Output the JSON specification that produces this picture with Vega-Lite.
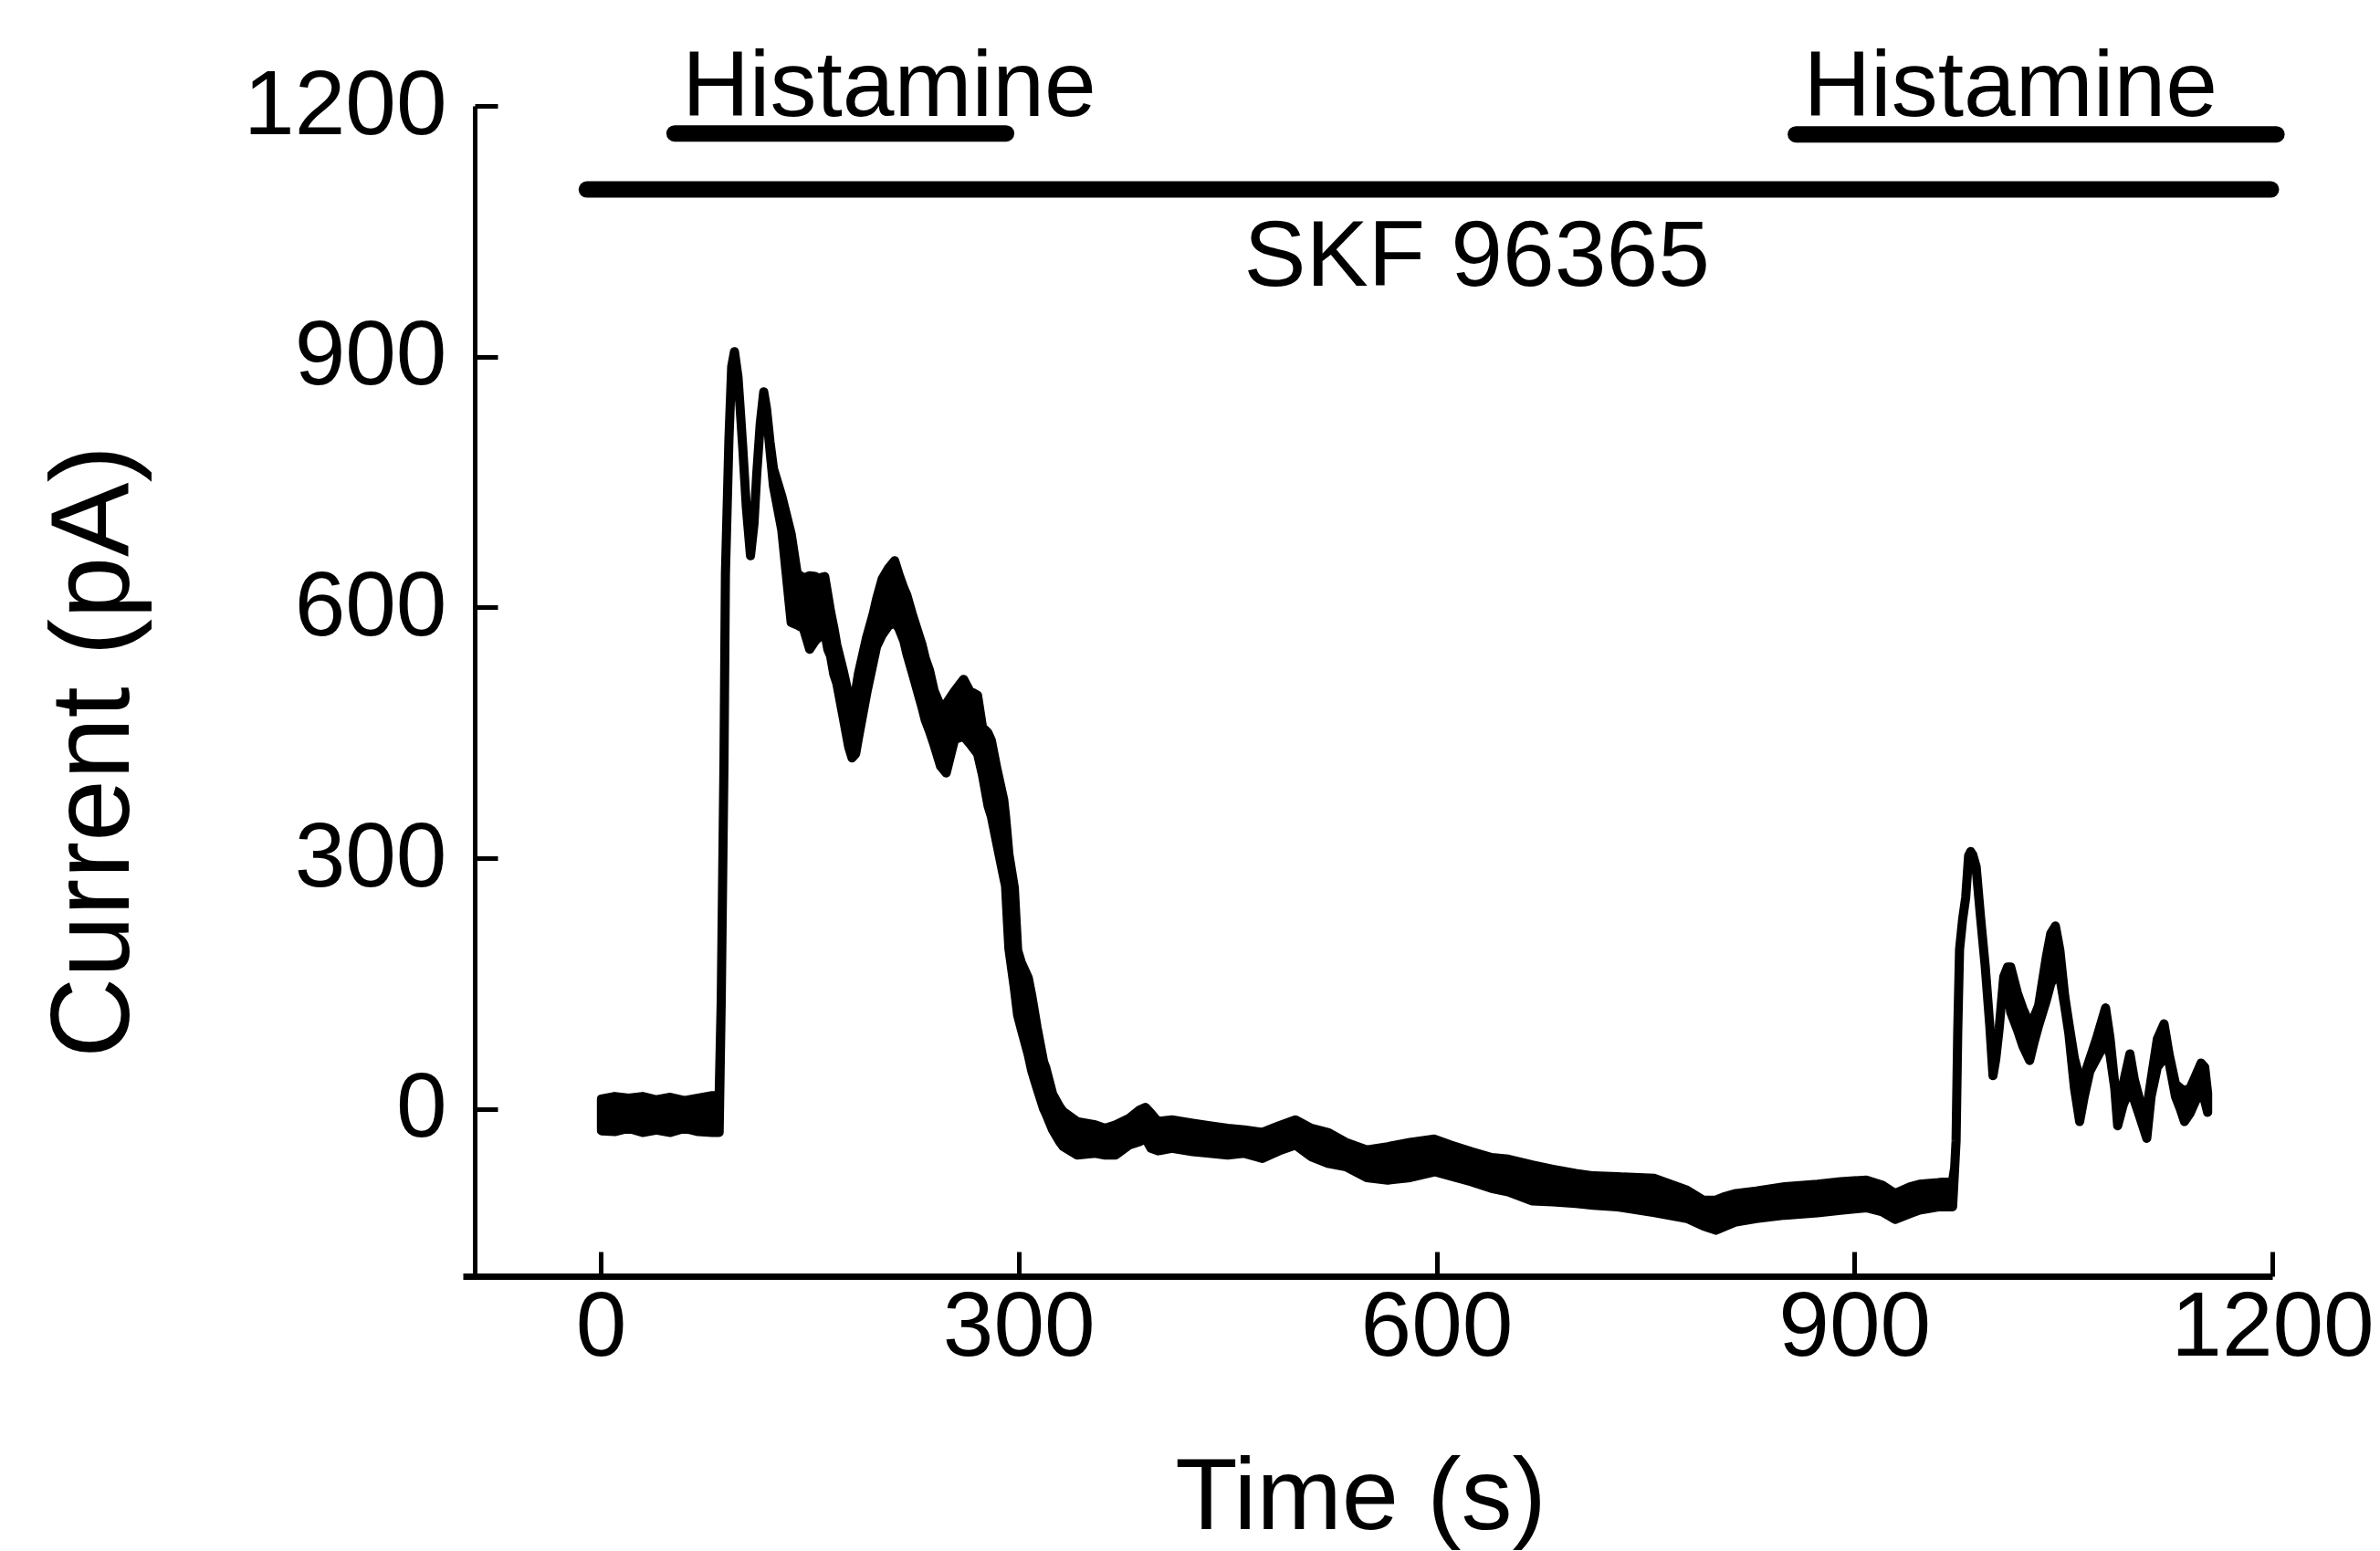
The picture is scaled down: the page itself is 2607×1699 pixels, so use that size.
{
  "$schema": "https://vega.github.io/schema/vega-lite/v6.json",
  "width": 1982,
  "height": 1282,
  "autosize": {"type": "none"},
  "padding": {"left": 507, "top": 116, "right": 118, "bottom": 301},
  "background": "white",
  "config": {
    "view": {"stroke": null},
    "font": "Liberation Sans",
    "axis": {
      "grid": false,
      "domainColor": "black",
      "tickColor": "black",
      "labelColor": "black",
      "titleColor": "black",
      "labelFont": "Liberation Sans",
      "titleFont": "Liberation Sans",
      "labelFontWeight": "normal",
      "titleFontWeight": "normal",
      "labelOverlap": false,
      "labelFlush": false,
      "labelLimit": 0,
      "titleLimit": 0,
      "format": "d"
    }
  },
  "datasets": {
    "trace": [
      {"t": 0.5, "hi": 12, "lo": -26},
      {"t": 10, "hi": 15, "lo": -27},
      {"t": 20, "hi": 13, "lo": -23},
      {"t": 30, "hi": 15, "lo": -28},
      {"t": 40, "hi": 11, "lo": -25},
      {"t": 50, "hi": 14, "lo": -28},
      {"t": 60, "hi": 10, "lo": -23},
      {"t": 70, "hi": 13, "lo": -27},
      {"t": 80, "hi": 16, "lo": -28},
      {"t": 85, "hi": 16, "lo": -28},
      {"t": 86.5, "hi": 130, "lo": 130},
      {"t": 88.5, "hi": 420, "lo": 420},
      {"t": 89.5, "hi": 640, "lo": 640},
      {"t": 92, "hi": 800, "lo": 800},
      {"t": 94, "hi": 888, "lo": 888},
      {"t": 96, "hi": 906, "lo": 903},
      {"t": 98.5, "hi": 876, "lo": 876},
      {"t": 100, "hi": 840, "lo": 840},
      {"t": 102, "hi": 790, "lo": 790},
      {"t": 104.5, "hi": 720, "lo": 720},
      {"t": 107.5, "hi": 662, "lo": 662},
      {"t": 110, "hi": 700, "lo": 700},
      {"t": 112, "hi": 760, "lo": 760},
      {"t": 114.5, "hi": 820, "lo": 820},
      {"t": 117, "hi": 858, "lo": 856},
      {"t": 119, "hi": 838, "lo": 833},
      {"t": 121.5, "hi": 798, "lo": 788},
      {"t": 124, "hi": 766, "lo": 745},
      {"t": 130, "hi": 733, "lo": 692},
      {"t": 136.7, "hi": 688, "lo": 582},
      {"t": 141, "hi": 641, "lo": 579},
      {"t": 145.5, "hi": 635, "lo": 575},
      {"t": 150, "hi": 638, "lo": 550},
      {"t": 154, "hi": 637, "lo": 560},
      {"t": 156.4, "hi": 635, "lo": 564},
      {"t": 160.8, "hi": 637, "lo": 570},
      {"t": 163, "hi": 615, "lo": 550},
      {"t": 165, "hi": 595, "lo": 542},
      {"t": 167.3, "hi": 576, "lo": 520},
      {"t": 169.5, "hi": 555, "lo": 509},
      {"t": 174, "hi": 525, "lo": 469},
      {"t": 178, "hi": 495, "lo": 433},
      {"t": 180.4, "hi": 484, "lo": 420},
      {"t": 183, "hi": 500, "lo": 425},
      {"t": 185, "hi": 521, "lo": 444},
      {"t": 191, "hi": 565, "lo": 498},
      {"t": 195.7, "hi": 593, "lo": 535},
      {"t": 198, "hi": 610, "lo": 553},
      {"t": 202, "hi": 634, "lo": 567},
      {"t": 206.6, "hi": 647, "lo": 578},
      {"t": 211, "hi": 656, "lo": 582},
      {"t": 214, "hi": 640, "lo": 575},
      {"t": 217.6, "hi": 623, "lo": 560},
      {"t": 219.7, "hi": 615, "lo": 545},
      {"t": 224, "hi": 590, "lo": 520},
      {"t": 230.7, "hi": 555, "lo": 480},
      {"t": 233, "hi": 539, "lo": 465},
      {"t": 236, "hi": 525, "lo": 452},
      {"t": 239.4, "hi": 500, "lo": 435},
      {"t": 244, "hi": 482, "lo": 410},
      {"t": 248, "hi": 485, "lo": 402},
      {"t": 254, "hi": 500, "lo": 442},
      {"t": 260.5, "hi": 514, "lo": 446},
      {"t": 265, "hi": 500, "lo": 437},
      {"t": 270.5, "hi": 495, "lo": 425},
      {"t": 274, "hi": 457, "lo": 400},
      {"t": 278, "hi": 450, "lo": 363},
      {"t": 280.4, "hi": 441, "lo": 350},
      {"t": 284.4, "hi": 407, "lo": 317},
      {"t": 289.3, "hi": 370, "lo": 277},
      {"t": 290.6, "hi": 350, "lo": 267},
      {"t": 291.6, "hi": 332, "lo": 235},
      {"t": 293, "hi": 305, "lo": 192},
      {"t": 296.9, "hi": 265, "lo": 145},
      {"t": 299.3, "hi": 190, "lo": 112},
      {"t": 302, "hi": 175, "lo": 95},
      {"t": 306.9, "hi": 157, "lo": 65},
      {"t": 309.5, "hi": 135, "lo": 45},
      {"t": 313.2, "hi": 98, "lo": 25},
      {"t": 318, "hi": 56, "lo": 0},
      {"t": 319.4, "hi": 50, "lo": -5},
      {"t": 324.4, "hi": 18, "lo": -25},
      {"t": 329.4, "hi": 3, "lo": -39},
      {"t": 332, "hi": -3, "lo": -45},
      {"t": 342, "hi": -15, "lo": -55},
      {"t": 355, "hi": -19, "lo": -53},
      {"t": 362, "hi": -23, "lo": -55},
      {"t": 369.6, "hi": -19, "lo": -55},
      {"t": 379.4, "hi": -11, "lo": -43},
      {"t": 387, "hi": -1, "lo": -39},
      {"t": 391, "hi": 2, "lo": -35},
      {"t": 395, "hi": -5, "lo": -47},
      {"t": 400, "hi": -15, "lo": -50},
      {"t": 410, "hi": -13, "lo": -47},
      {"t": 425, "hi": -17, "lo": -51},
      {"t": 437, "hi": -20, "lo": -53},
      {"t": 450, "hi": -23, "lo": -55},
      {"t": 462, "hi": -25, "lo": -53},
      {"t": 475, "hi": -28, "lo": -59},
      {"t": 487, "hi": -20, "lo": -50},
      {"t": 498.7, "hi": -13, "lo": -43},
      {"t": 510, "hi": -23, "lo": -57},
      {"t": 522, "hi": -28, "lo": -65},
      {"t": 535, "hi": -40, "lo": -69},
      {"t": 550, "hi": -49, "lo": -82},
      {"t": 565, "hi": -45, "lo": -85},
      {"t": 581, "hi": -40, "lo": -82},
      {"t": 598.6, "hi": -36, "lo": -75},
      {"t": 610, "hi": -43, "lo": -80},
      {"t": 625, "hi": -51, "lo": -87},
      {"t": 639.6, "hi": -58, "lo": -95},
      {"t": 651.5, "hi": -60, "lo": -99},
      {"t": 668.8, "hi": -67, "lo": -110},
      {"t": 683.5, "hi": -72, "lo": -111},
      {"t": 700, "hi": -77, "lo": -113},
      {"t": 712.7, "hi": -80, "lo": -115},
      {"t": 730, "hi": -81, "lo": -117},
      {"t": 756.6, "hi": -83, "lo": -124},
      {"t": 779.8, "hi": -97, "lo": -131},
      {"t": 791.6, "hi": -109, "lo": -140},
      {"t": 800.5, "hi": -109, "lo": -145},
      {"t": 806.3, "hi": -105, "lo": -141},
      {"t": 815, "hi": -101, "lo": -135},
      {"t": 829.6, "hi": -98, "lo": -131},
      {"t": 850, "hi": -93, "lo": -127},
      {"t": 873.5, "hi": -90, "lo": -124},
      {"t": 890, "hi": -87, "lo": -121},
      {"t": 908.6, "hi": -85, "lo": -118},
      {"t": 920, "hi": -91, "lo": -123},
      {"t": 929.2, "hi": -101, "lo": -132},
      {"t": 940, "hi": -93, "lo": -125},
      {"t": 946.7, "hi": -90, "lo": -121},
      {"t": 960, "hi": -88, "lo": -117},
      {"t": 970.5, "hi": -86, "lo": -117},
      {"t": 972, "hi": -70, "lo": -70},
      {"t": 973, "hi": -38, "lo": -38},
      {"t": 974.2, "hi": 93, "lo": 93},
      {"t": 975.5, "hi": 191, "lo": 191},
      {"t": 977.7, "hi": 227, "lo": 227},
      {"t": 979.9, "hi": 253, "lo": 253},
      {"t": 982, "hi": 303, "lo": 303},
      {"t": 983.5, "hi": 308, "lo": 303},
      {"t": 985, "hi": 304, "lo": 294},
      {"t": 987.4, "hi": 290, "lo": 288},
      {"t": 990.6, "hi": 229, "lo": 229},
      {"t": 993.9, "hi": 171, "lo": 171},
      {"t": 997.2, "hi": 100, "lo": 100},
      {"t": 999.5, "hi": 40, "lo": 40},
      {"t": 1001.5, "hi": 60, "lo": 60},
      {"t": 1003.9, "hi": 96, "lo": 96},
      {"t": 1007.2, "hi": 158, "lo": 158},
      {"t": 1010, "hi": 170, "lo": 145},
      {"t": 1012.2, "hi": 170, "lo": 116},
      {"t": 1017, "hi": 139, "lo": 95},
      {"t": 1021, "hi": 120, "lo": 75},
      {"t": 1025.8, "hi": 102, "lo": 58},
      {"t": 1029, "hi": 110, "lo": 80},
      {"t": 1032.3, "hi": 124, "lo": 100},
      {"t": 1037.8, "hi": 182, "lo": 130},
      {"t": 1041, "hi": 210, "lo": 150},
      {"t": 1044.3, "hi": 219, "lo": 160},
      {"t": 1047.5, "hi": 190, "lo": 158},
      {"t": 1051, "hi": 135, "lo": 123},
      {"t": 1054, "hi": 102, "lo": 90},
      {"t": 1058, "hi": 60, "lo": 25},
      {"t": 1061.7, "hi": 37, "lo": -15},
      {"t": 1065, "hi": 40, "lo": 15},
      {"t": 1069, "hi": 60, "lo": 45},
      {"t": 1073.8, "hi": 84, "lo": 60},
      {"t": 1080.3, "hi": 121, "lo": 80},
      {"t": 1083.5, "hi": 85, "lo": 65},
      {"t": 1086.9, "hi": 30, "lo": 25},
      {"t": 1089, "hi": -5, "lo": -20},
      {"t": 1093, "hi": 30, "lo": 5},
      {"t": 1097.8, "hi": 66, "lo": 25},
      {"t": 1101, "hi": 35, "lo": 10},
      {"t": 1105, "hi": 10, "lo": -10},
      {"t": 1109.9, "hi": 0, "lo": -35},
      {"t": 1113, "hi": 35, "lo": 15},
      {"t": 1117.5, "hi": 84, "lo": 50},
      {"t": 1122.3, "hi": 102, "lo": 61},
      {"t": 1126, "hi": 65, "lo": 55},
      {"t": 1130.5, "hi": 30, "lo": 15},
      {"t": 1134, "hi": 25, "lo": 0},
      {"t": 1137, "hi": 22, "lo": -15},
      {"t": 1141, "hi": 25, "lo": -5},
      {"t": 1145, "hi": 40, "lo": 10},
      {"t": 1148.9, "hi": 55, "lo": 18},
      {"t": 1151.5, "hi": 50, "lo": 10},
      {"t": 1153.6, "hi": 19, "lo": -4}
    ],
    "bars": [
      {"drug": "Histamine", "t1": 53, "t2": 291, "level": 1167},
      {"drug": "Histamine", "t1": 858, "t2": 1203, "level": 1166},
      {"drug": "SKF 96365", "t1": -10, "t2": 1199, "level": 1100}
    ],
    "labels": [
      {"label": "Histamine", "t": 207, "level": 1188},
      {"label": "Histamine", "t": 1012, "level": 1188},
      {"label": "SKF 96365", "t": 629, "level": 985}
    ]
  },
  "layer": [
    {
      "data": {"name": "trace"},
      "mark": {"type": "area", "fill": "black", "stroke": "black", "strokeWidth": 10, "strokeJoin": "round", "clip": false},
      "encoding": {
        "x": {
          "field": "t",
          "type": "quantitative",
          "scale": {"domain": [-99, 1200], "nice": false, "zero": false},
          "axis": {
            "values": [0, 300, 600, 900, 1200],
            "tickSize": -27,
            "tickWidth": 5,
            "domainWidth": 7,
            "labelFontSize": 100,
            "labelBaseline": "top",
            "labelPadding": 34,
            "title": "Time (s)",
            "titleFontSize": 112,
            "titleX": 983,
            "titleY": 276,
            "titleBaseline": "alphabetic",
            "titleAlign": "center"
          }
        },
        "y": {
          "field": "hi",
          "type": "quantitative",
          "scale": {"domain": [-200, 1200], "nice": false, "zero": false},
          "axis": {
            "values": [0, 300, 600, 900, 1200],
            "offset": -13,
            "tickSize": -25,
            "tickWidth": 5,
            "domainWidth": 5,
            "labelFontSize": 100,
            "labelPadding": 56,
            "title": "Current (pA)",
            "titleFontSize": 122,
            "titleAngle": -90,
            "titleX": -380,
            "titleY": 707,
            "titleBaseline": "alphabetic",
            "titleAlign": "center"
          }
        },
        "y2": {"field": "lo"}
      }
    },
    {
      "data": {"name": "bars"},
      "mark": {"type": "rule", "color": "black", "strokeWidth": 18, "strokeCap": "round"},
      "encoding": {
        "x": {"field": "t1", "type": "quantitative"},
        "x2": {"field": "t2"},
        "y": {"field": "level", "type": "quantitative"}
      }
    },
    {
      "data": {"name": "labels"},
      "mark": {"type": "text", "font": "Liberation Sans", "fontSize": 102, "color": "black", "align": "center", "baseline": "alphabetic"},
      "encoding": {
        "x": {"field": "t", "type": "quantitative"},
        "y": {"field": "level", "type": "quantitative"},
        "text": {"field": "label"}
      }
    }
  ]
}
